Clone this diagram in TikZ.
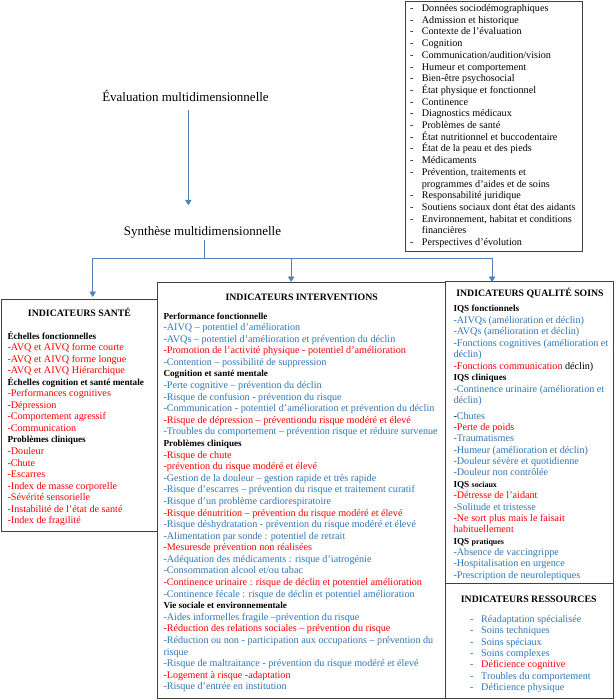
\documentclass[tikz,border=0pt]{standalone}
\usepackage{fontspec}
\setmainfont{Liberation Serif}
\usetikzlibrary{arrows.meta}
\definecolor{iblue}{RGB}{46,117,182}
\definecolor{ired}{RGB}{255,0,0}
\definecolor{abl}{RGB}{79,129,189}
\definecolor{frame}{RGB}{64,64,64}
\newcommand\Bl[1]{\textcolor{iblue}{#1}}
\newcommand\Rd[1]{\textcolor{ired}{#1}}
\newcommand\subh[1]{{\fontsize{9.2}{11}\selectfont\bfseries #1}}
\newcommand\smb[1]{{\fontsize{8}{11}\selectfont\bfseries #1}}
\newcommand\dshA{\makebox[11.7pt][l]{-}}
\newcommand\dshB{\makebox[11pt][l]{-}}
\newcommand\putlines[5]{\foreach \myline [count=\myidx from 0] in {#5}{\node[txt] (#1-\myidx) at (#2,{#3+\myidx*#4}) {\myline};}}
\begin{document}
\begin{tikzpicture}[x=1pt,y=-1pt,
  txt/.style={inner sep=0pt,anchor=base west,font=\fontsize{10.15}{12}\selectfont},
  hdr/.style={inner sep=0pt,anchor=base,font=\fontsize{9.8}{12}\selectfont\bfseries},
  ttl/.style={inner sep=0pt,anchor=base,font=\fontsize{13}{15}\selectfont},
  box/.style={draw=frame,line width=0.8pt,anchor=north west,inner sep=0pt},
  arr/.style={draw=abl,line width=0.9pt,-{Triangle[width=6.5pt,length=5.5pt]}},
  ln/.style={draw=abl,line width=0.9pt}]
\useasboundingbox (0,0) rectangle (615,700);

% boxes
\node[box,minimum width=177pt,minimum height=249.5pt] (topbox) at (405,1.5) {};
\node[box,minimum width=156pt,minimum height=232pt] (sante) at (1,299) {};
\node[box,minimum width=288pt,minimum height=416pt] (interv) at (157,282) {};
\node[box,minimum width=168pt,minimum height=302pt] (qualite) at (445,281) {};
\node[box,minimum width=168pt,minimum height=115pt] (ress) at (445,583) {};

% titles
\node[ttl] (eval) at (185.5,101.7) {Évaluation multidimensionnelle};
\node[ttl] (synth) at (202.5,235.5) {Synthèse multidimensionnelle};

% connectors
\coordinate (evx) at ([xshift=2.8pt]eval.south);
\draw[arr,shorten <=8.3pt,shorten >=21pt] (evx) -- (evx |- synth.north);
\coordinate (junc) at (204,258.3);
\draw[ln,shorten <=1.7pt] (junc |- synth.south) -- (junc);
\draw[arr] (junc) -| ([xshift=13.3pt,yshift=2pt]sante.north);
\draw[arr] (junc) -| ([xshift=-10.3pt]interv.north);
\draw[arr] (junc) -| ([xshift=-37.3pt,yshift=-1pt]qualite.north);

% headers
\node[hdr] (hsante) at (79.5,316) {INDICATEURS SANTÉ};
\node[hdr] (hinterv) at (301.7,300.6) {INDICATEURS INTERVENTIONS};
\node[hdr] (hqual) at (530,296) {INDICATEURS QUALITÉ SOINS};
\node[hdr] (hress) at (528.7,602.3) {INDICATEURS RESSOURCES};

% top right list
\putlines{tb}{410}{11.6}{11.7}{
{\dshA Données sociodémographiques},
{\dshA Admission et historique},
{\dshA Contexte de l’évaluation},
{\dshA Cognition},
{\dshA Communication/audition/vision},
{\dshA Humeur et comportement},
{\dshA Bien-être psychosocial},
{\dshA État physique et fonctionnel},
{\dshA Continence},
{\dshA Diagnostics médicaux},
{\dshA Problèmes de santé},
{\dshA État nutritionnel et buccodentaire},
{\dshA État de la peau et des pieds},
{\dshA Médicaments},
{\dshA Prévention, traitements et},
{\hspace*{11.7pt}programmes d’aides et de soins},
{\dshA Responsabilité juridique},
{\dshA Soutiens sociaux dont état des aidants},
{\dshA Environnement, habitat et conditions},
{\hspace*{11.7pt}financières},
{\dshA Perspectives d’évolution}}

% sante
\putlines{sa}{7.3}{339}{11.55}{
{\subh{Échelles fonctionnelles}},
{\Rd{-AVQ et AIVQ forme courte}},
{\Rd{-AVQ et AIVQ forme longue}},
{\Rd{-AVQ et AIVQ Hiérarchique}},
{\subh{Échelles cognition et santé mentale}},
{\Rd{-Performances cognitives}},
{\Rd{-Dépression}},
{\Rd{-Comportement agressif}},
{\Rd{-Communication}},
{\subh{Problèmes cliniques}},
{\Rd{-Douleur}},
{\Rd{-Chute}},
{\Rd{-Escarres}},
{\Rd{-Index de masse corporelle}},
{\Rd{-Sévérité sensorielle}},
{\Rd{-Instabilité de l’état de santé}},
{\Rd{-Index de fragilité}}}

% interventions
\putlines{iv}{163.3}{319}{11.59}{
{\subh{Performance fonctionnelle}},
{\Bl{-AIVQ – potentiel d’amélioration}},
{\Bl{-AVQs – potentiel d’amélioration et prévention du déclin}},
{\Rd{-Promotion de l’activité physique - potentiel d’amélioration}},
{\Bl{-Contention – possibilité de suppression}},
{\subh{Cognition et santé mentale}},
{\Bl{-Perte cognitive – prévention du déclin}},
{\Bl{-Risque de confusion - prévention du risque}},
{\Bl{-Communication - potentiel d’amélioration et prévention du déclin}},
{\Rd{-Risque de dépression – préventiondu risque modéré et élevé}},
{\Bl{-Troubles du comportement – prévention risque et réduire survenue}},
{\subh{Problèmes cliniques}},
{\Rd{-Risque de chute}},
{\Rd{-prévention du risque modéré et élevé}},
{\Bl{-Gestion de la douleur – gestion rapide et très rapide}},
{\Bl{-Risque d’escarres – prévention du risque et traitement curatif}},
{\Bl{-Risque d’un problème cardiorespiratoire}},
{\Rd{-Risque dénutrition – prévention du risque modéré et élevé}},
{\Bl{-Risque déshydratation - prévention du risque modéré et élevé}},
{\Bl{-Alimentation par sonde : potentiel de retrait}},
{\Rd{-Mesuresde prévention non réalisées}},
{\Bl{-Adéquation des médicaments : risque d’iatrogénie}},
{\Bl{-Consommation alcool et/ou tabac}},
{\Rd{-Continence urinaire : risque de déclin et potentiel amélioration}},
{\Bl{-Continence fécale : risque de déclin et potentiel amélioration}},
{\subh{Vie sociale et environnementale}},
{\Bl{-Aides informelles fragile –prévention du risque}},
{\Rd{-Réduction des relations sociales – prévention du risque}},
{\Bl{-Réduction ou non - participation aux occupations – prévention du}},
{\Bl{risque}},
{\Bl{-Risque de maltraitance - prévention du risque modéré et élevé}},
{\Rd{-Logement à risque -adaptation}},
{\Bl{-Risque d’entrée en institution}}}

% qualite
\putlines{qa}{453.3}{311.6}{11.5}{
{\subh{IQS fonctionnels}},
{\Bl{-AIVQs (amélioration et déclin)}},
{\Bl{-AVQs (amélioration et déclin)}},
{\Bl{-Fonctions cognitives (amélioration et}},
{\Bl{déclin)}},
{\Rd{-Fonctions communication} déclin)},
{\subh{IQS cliniques}},
{\Bl{-Continence urinaire (amélioration et}},
{\Bl{déclin)}}}
\putlines{qb}{453.3}{419}{11.38}{
{-\Bl{Chutes}},
{\Rd{-Perte de poids}},
{\Bl{-Traumatismes}},
{\Bl{-Humeur (amélioration et déclin)}},
{\Bl{-Douleur sévère et quotidienne}},
{\Bl{-Douleur non contrôlée}},
{\subh{IQS \smb{sociaux}}},
{\Rd{-Détresse de l’aidant}},
{\Bl{-Solitude et tristesse}},
{\Rd{-Ne sort plus mais le faisait}},
{\Rd{habituellement}},
{\subh{IQS \smb{pratiques}}},
{\Bl{-Absence de vaccingrippe}},
{\Bl{-Hospitalisation en urgence}},
{\Bl{-Prescription de neuroleptiques}}}

% ressources
\putlines{rs}{470}{622.3}{11.38}{
{\Bl{\dshB Réadaptation spécialisée}},
{\Bl{\dshB Soins techniques}},
{\Bl{\dshB Soins spéciaux}},
{\Bl{\dshB Soins complexes}},
{\Bl{\dshB}\Rd{Déficience cognitive}},
{\Bl{\dshB Troubles du comportement}},
{\Bl{\dshB Déficience physique}}}
\end{tikzpicture}
\end{document}
